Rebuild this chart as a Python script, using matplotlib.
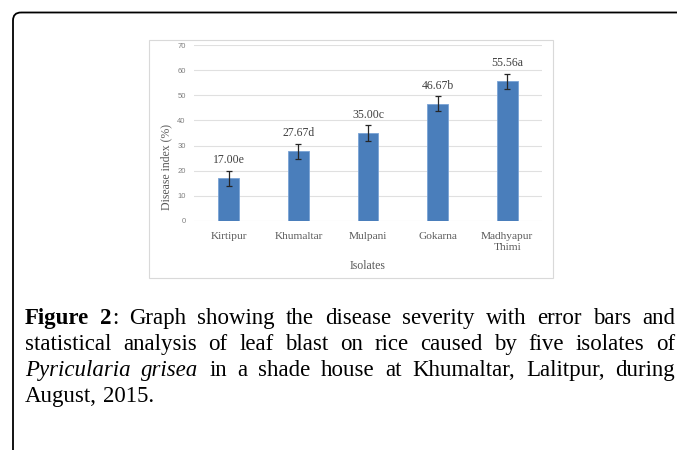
import matplotlib.pyplot as plt
import matplotlib.patches as patches

# data
isolates = ["Kirtipur", "Khumaltar", "Mulpani", "Gokarna", "Madhyapur\nThimi"]
disease_index = [17.00, 27.67, 35.00, 46.67, 55.56]
errors = [3.0, 3.0, 3.2, 3.0, 3.0]
letters = ["e", "d", "c", "b", "a"]
yticks = [0, 10, 20, 30, 40, 50, 60, 70]

caption_lines = [
    [("Figure", "bold", "normal", False), ("2", "bold", "normal", False), (":", "normal", "normal", True),
     ("Graph", "normal", "normal", False), ("showing", "normal", "normal", False), ("the", "normal", "normal", False),
     ("disease", "normal", "normal", False), ("severity", "normal", "normal", False), ("with", "normal", "normal", False),
     ("error", "normal", "normal", False), ("bars", "normal", "normal", False), ("and", "normal", "normal", False)],
    [(w, "normal", "normal", False) for w in
     "statistical analysis of leaf blast on rice caused by five isolates of".split()],
    [("Pyricularia", "normal", "italic", False), ("grisea", "normal", "italic", False)] +
    [(w, "normal", "normal", False) for w in "in a shade house at Khumaltar, Lalitpur, during".split()],
    [(w, "normal", "normal", False) for w in "August, 2015.".split()],
]

W, H = 677, 450
fig = plt.figure(figsize=(W / 100, H / 100), dpi=100)

# background layer in pixel coordinates
bg = fig.add_axes([0, 0, 1, 1], zorder=0)
bg.set_xlim(0, W)
bg.set_ylim(H, 0)
bg.axis('off')

# page frame with rounded top-left corner
frame = patches.FancyBboxPatch((13, 12.5), 720, 480, boxstyle="round,pad=0,rounding_size=8",
                               facecolor='none', edgecolor='black', linewidth=1.3)
bg.add_patch(frame)

# chart area box
bg.add_patch(patches.Rectangle((149, 40), 404, 238, facecolor='white', edgecolor='#d9d9d9', linewidth=0.8))

serif = "Liberation Serif"

ax = fig.add_axes([194 / W, 1 - 220.7 / H, 348 / W, 175.4 / H], zorder=1)
ax.patch.set_alpha(0)
x = list(range(len(isolates)))
ax.bar(x, disease_index, width=0.3, color='#4a7ebb', edgecolor='#7aa3d6', linewidth=0.6,
       yerr=errors, capsize=2.4, error_kw=dict(ecolor='#262626', elinewidth=0.9, capthick=0.9), zorder=3)
ax.set_xlim(-0.5, len(isolates) - 0.5)
ax.set_ylim(0, 70)
ax.set_yticks(yticks)
ax.set_yticklabels([str(t) for t in yticks], fontsize=5.5, color='#808080', family="Liberation Sans")
ax.set_xticks(x)
ax.set_xticklabels(isolates, fontsize=8.2, color='#595959', family=serif, linespacing=1.35)
ax.tick_params(axis='both', length=0)
ax.tick_params(axis='y', pad=6)
ax.tick_params(axis='x', pad=8)
ax.grid(axis='y', color='#e0e0e0', linewidth=0.8, zorder=0)
for s in ax.spines.values():
    s.set_visible(False)

for xi, v, l in zip(x, disease_index, letters):
    ax.annotate(f"{v:.2f}{l}", (xi, v), xytext=(0, 13), textcoords='offset points',
                ha='center', va='center', fontsize=8.5, color='#404040', family=serif)

bg.text(166, 167, "Disease index (%)", rotation=90, ha='center', va='center',
        fontsize=8.5, color='#595959', family=serif)
bg.text(368, 266, "Isolates", ha='center', va='center', fontsize=8.5, color='#595959', family=serif)

# justified caption
renderer = fig.canvas.get_renderer()
left, right = 25, 675
baselines = [324, 350, 376, 402]
cap_size = 16.5
probe1 = bg.text(0, 0, "a a", fontsize=cap_size, family=serif)
probe2 = bg.text(0, 0, "aa", fontsize=cap_size, family=serif)
space_w = probe1.get_window_extent(renderer).width - probe2.get_window_extent(renderer).width
probe1.remove()
probe2.remove()
for i, (line, base) in enumerate(zip(caption_lines, baselines)):
    texts = []
    for word, weight, style, attach in line:
        t = bg.text(0, base, word, fontsize=cap_size, family=serif, fontweight=weight,
                    fontstyle=style, va='baseline', ha='left', color='black')
        w = t.get_window_extent(renderer).width
        texts.append((t, w, attach))
    total = sum(w for _, w, _ in texts)
    gaps = sum(1 for _, _, a in texts[1:] if not a)
    if i < len(caption_lines) - 1:
        gap = (right - left - total) / gaps
    else:
        gap = space_w
    pos = left
    for j, (t, w, attach) in enumerate(texts):
        if j > 0 and not attach:
            pos += gap
        t.set_x(pos)
        pos += w

fig.savefig("out.png", dpi=100)
